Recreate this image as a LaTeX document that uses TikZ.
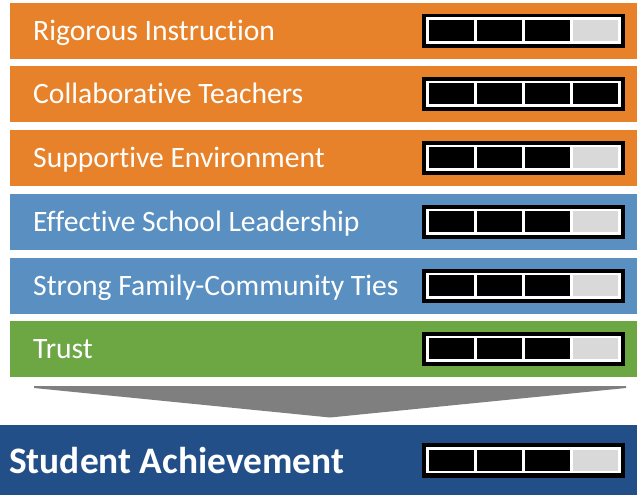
\documentclass[tikz,border=0pt]{standalone}
\usepackage{fontspec}
\setmainfont[RawFeature={-liga;-clig;-dlig}]{Carlito}
\definecolor{barorange}{HTML}{E8822A}
\definecolor{barblue}{HTML}{5A8FC1}
\definecolor{bargreen}{HTML}{6DA744}
\definecolor{darkblue}{HTML}{224F87}
\definecolor{arrowgray}{HTML}{7F7F7F}
\definecolor{cellgray}{HTML}{D9D9D9}
\tikzset{
  bar/.style={rectangle, inner sep=0pt, minimum width=627pt, minimum height=56pt, anchor=north west},
  label/.style={text=white, font=\fontsize{29.6}{34}\selectfont, anchor=base west, inner sep=0pt},
  biglabel/.style={text=white, font=\fontsize{37.4}{42}\selectfont\bfseries, anchor=base west, inner sep=0pt},
}
% meter: #1 = centre y, #2 = number of filled cells
\newcommand\mymeter[2]{%
  \fill[black] (422,#1-17.3) rectangle (625,#1+17.3);
  \fill[white] (426,#1-13.5) rectangle (621,#1+13.2);
  \foreach \i in {1,...,4}{%
    \pgfmathsetmacro\xa{429+(\i-1)*48}%
    \ifnum\i>#2\relax
      \fill[cellgray] (\xa,#1-10.6) rectangle (\xa+45,#1+10.4);
    \else
      \fill[black] (\xa,#1-10.6) rectangle (\xa+45,#1+10.4);
    \fi
  }%
}
\begin{document}
\begin{tikzpicture}[x=1pt,y=-1pt]
\useasboundingbox (0,0) rectangle (637,495);
\fill[white] (0,0) rectangle (637,495);
% bars
\node[bar, fill=barorange] (b1) at (10,3) {};
\node[bar, fill=barorange] (b2) at (10,66) {};
\node[bar, fill=barorange] (b3) at (10,130) {};
\node[bar, fill=barblue] (b4) at (10,194) {};
\node[bar, fill=barblue] (b5) at (10,258) {};
\node[bar, fill=bargreen, minimum height=55.7pt] (b6) at (10,321) {};
% labels
\node[label] (t1) at (33,40.2) {Rigorous Instruction};
\node[label] (t2) at (33,103.2) {Collaborative Teachers};
\node[label] (t3) at (33,167.2) {Supportive Environment};
\node[label] (t4) at (33,231.5) {Effective School Leadership};
\node[label] (t5) at (33,295.2) {Strong Family-Community Ties};
\node[label] (t6) at (33,358.2) {Trust};
% meters
\mymeter{31}{3}
\mymeter{94}{4}
\mymeter{158}{3}
\mymeter{222}{3}
\mymeter{286}{3}
\mymeter{349}{3}
% arrow
\fill[arrowgray] (34,386) -- (626,386) -- (626,388) -- (330,417.5) -- (34,388) -- cycle;
% bottom
\fill[darkblue] (0,425) rectangle (637,495);
\node[biglabel] (sa) at (9,473) {Student Achievement};
\mymeter{460.2}{3}
\end{tikzpicture}
\end{document}
